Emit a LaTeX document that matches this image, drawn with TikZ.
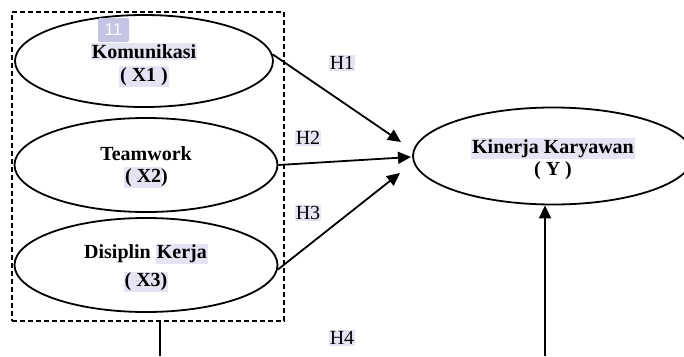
\documentclass[tikz,border=0pt]{standalone}
\usepackage{fontspec}
\setmainfont{Liberation Serif}
\newfontfamily\badgefont{Liberation Sans}
\usetikzlibrary{shapes.geometric, arrows.meta, positioning}
\definecolor{hlcolor}{RGB}{228, 228, 244}
\definecolor{badgecolor}{RGB}{196, 196, 228}
\newcommand{\hlt}[1]{{\setlength{\fboxsep}{1pt}\colorbox{hlcolor}{#1}}}

\begin{document}
\begin{tikzpicture}[x=1pt, y=-1pt, font=\fontsize{20}{25}\selectfont,
    var/.style={ellipse, draw, line width=1.8pt, inner sep=0pt},
    lbl/.style={align=center, inner sep=0pt, font=\fontsize{20}{25}\selectfont\bfseries},
    arr/.style={line width=1.8pt, -{Triangle[length=13pt, width=12pt]}},
    hyp/.style={fill=hlcolor, inner sep=1pt}]
    \useasboundingbox (0,0) rectangle (684,356);
    \clip (0,0) rectangle (684,356);
    % variabel bebas
    \node[draw, line width=1.6pt, dash pattern=on 5pt off 3pt, minimum width=272pt, minimum height=309pt] (box) at (148,166.5) {};
    \node[var, minimum width=258pt, minimum height=92pt] (x1) at (144,61) {};
    \node[var, minimum width=263pt, minimum height=94pt] (x2) at (146,165) {};
    \node[var, minimum width=263pt, minimum height=94pt] (x3) at (146,265) {};
    \node[lbl, yshift=-4pt] (x1lbl) at (x1) {\hlt{Komunikasi}\\[-2pt]\hlt{( X1 )}};
    \node[lbl, yshift=-2pt] (x2lbl) at (x2) {Teamwork\\[-3pt]\hlt{( X2}\kern-1pt)};
    \node[lbl, yshift=-3pt] (x3lbl) at (x3) {Disiplin \hlt{Kerja}\\[3pt]\hlt{( X3)}};
    % variabel terikat
    \node[var, minimum width=280pt, minimum height=97pt] (y) at (553,156) {};
    \node[lbl, yshift=-3pt] (ylbl) at (y) {\hlt{Kinerja Karyawan}\\[-3pt]( Y )};
    \node[fill=badgecolor, rounded corners=2pt, minimum width=31pt, minimum height=24pt, inner sep=0pt, text=white, font=\badgefont\fontsize{17}{17}\selectfont] (badge) at (113.5,30) {11};
    % panah hipotesis
    \coordinate (t1) at (401,142);
    \coordinate (t2) at (411,157);
    \coordinate (t3) at (400,173);
    \coordinate (b1) at (160,356);
    \coordinate (b2) at (545,356);
    \draw[arr] (x1.3) -- (t1);
    \draw[arr] (x2.east) -- (t2);
    \draw[arr] (x3.-2) -- (t3);
    \draw[line width=1.8pt] (b1 |- box.south) -- (b1);
    \draw[arr] (b2) -- (b2 |- y.south);
    \node[hyp] (h1) at (342,63) {H1};
    \node[hyp] (h2) at (308,138) {H2};
    \node[hyp] (h3) at (308,213) {H3};
    \node[hyp] (h4) at (342,338) {H4};
\end{tikzpicture}
\end{document}
